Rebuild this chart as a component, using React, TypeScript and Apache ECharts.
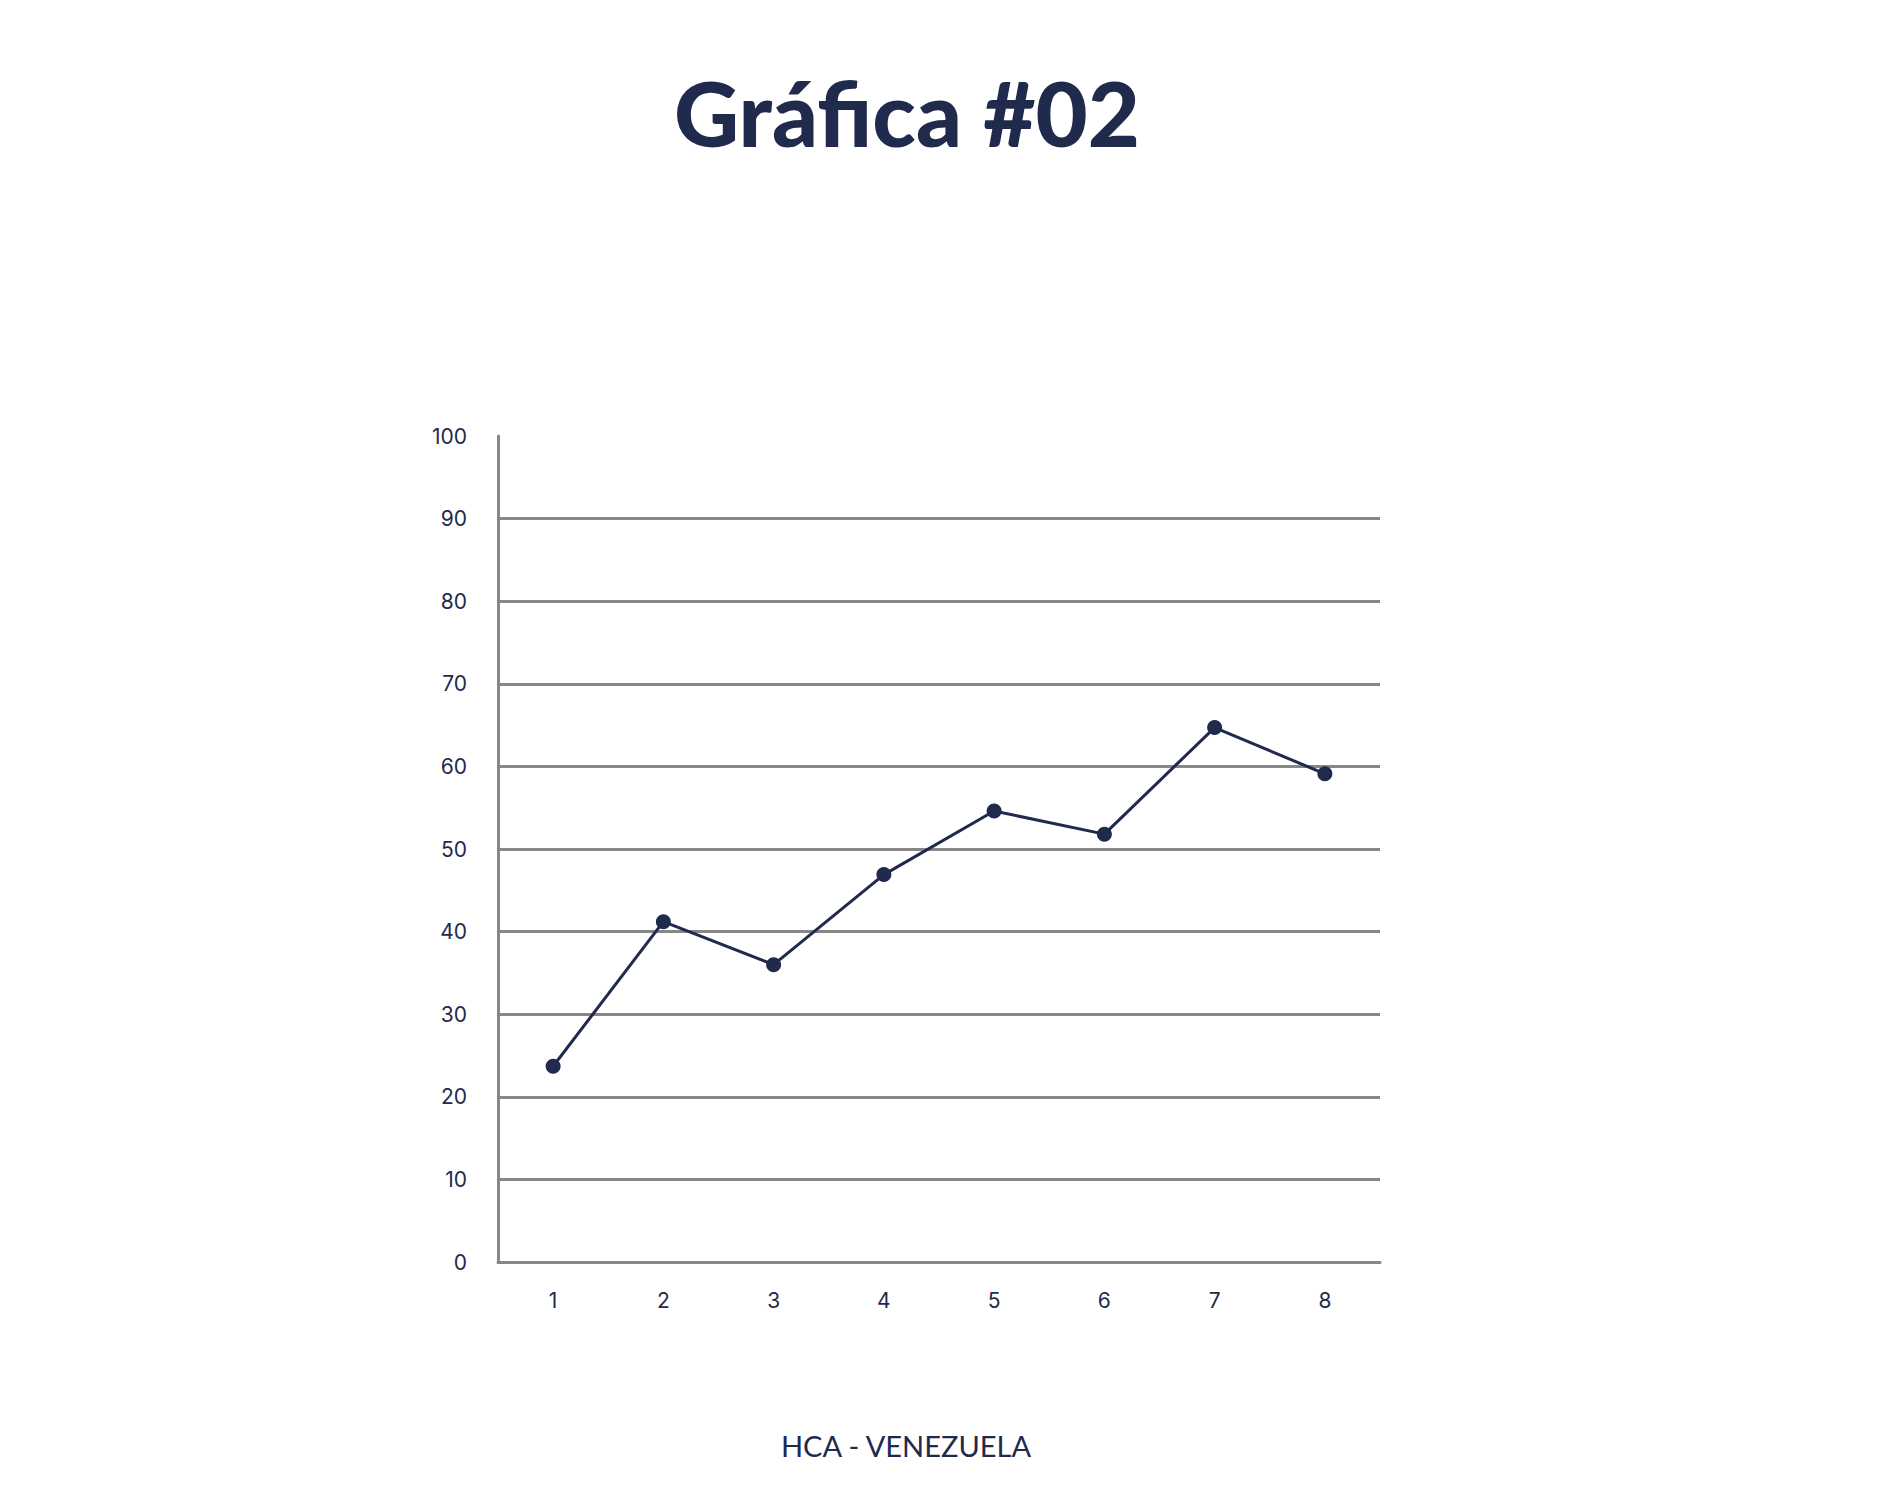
import React, { useEffect, useRef } from "react";
import * as echarts from "echarts";

const categories = ["1", "2", "3", "4", "5", "6", "7", "8"];
const values = [23.7, 41.2, 36.0, 46.9, 54.6, 51.8, 64.7, 59.1];
const titleText = "Gráfica #02";
const footerText = "HCA - VENEZUELA";

const NAVY = "#1f2a4d";
const GREY = "#878787";

export default function App() {
  const ref = useRef<HTMLDivElement>(null);
  useEffect(() => {
    document.body.style.margin = "0";
    const chart = echarts.init(ref.current!, null, { renderer: "svg" });
    chart.setOption({
      animation: false,
      backgroundColor: "#ffffff",
      grid: { left: 498, right: 505, top: 436, bottom: 235, containLabel: false },
      xAxis: {
        type: "category",
        data: categories,
        boundaryGap: true,
        axisLine: { show: true, lineStyle: { color: GREY, width: 3 } },
        axisTick: { show: false },
        axisLabel: { margin: 28, fontSize: 21, color: NAVY, fontFamily: "Inter" },
        splitLine: { show: false },
      },
      yAxis: {
        type: "value",
        min: 0,
        max: 100,
        interval: 10,
        axisLine: { show: true, lineStyle: { color: GREY, width: 3 } },
        axisTick: { show: false },
        axisLabel: { margin: 31, fontSize: 21, color: NAVY, fontFamily: "Inter" },
        splitLine: {
          show: true,
          showMaxLine: false,
          lineStyle: { color: GREY, width: 3 },
        },
      },
      series: [
        {
          type: "line",
          data: values,
          symbol: "circle",
          symbolSize: 15,
          lineStyle: { color: NAVY, width: 3 },
          itemStyle: { color: NAVY },
        },
      ],
      graphic: [
        {
          type: "text",
          x: 907,
          y: 112,
          style: {
            text: titleText,
            fill: NAVY,
            font: "900 90px Lato",
            textAlign: "center",
            textVerticalAlign: "middle",
          },
        },
        {
          type: "text",
          x: 906,
          y: 1445,
          style: {
            text: footerText,
            fill: NAVY,
            font: "29px Lato",
            textAlign: "center",
            textVerticalAlign: "middle",
          },
        },
      ],
    });
    return () => chart.dispose();
  }, []);
  return (
    <div
      ref={ref}
      style={{ position: "absolute", left: 0, top: 0, width: 1885, height: 1497 }}
    />
  );
}
